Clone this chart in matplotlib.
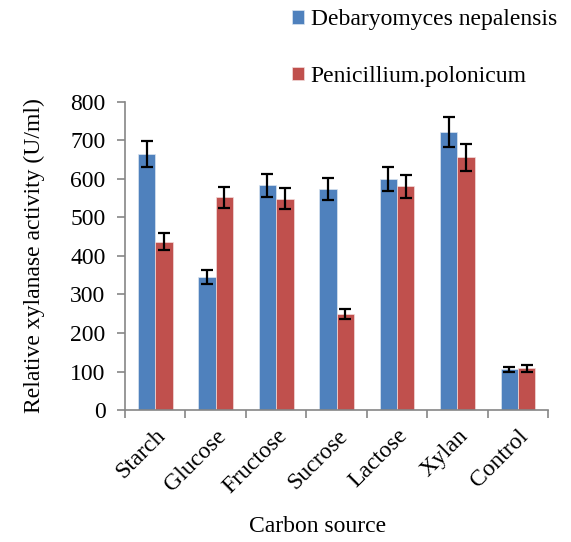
import matplotlib.pyplot as plt
import numpy as np

plt.rcParams['font.family'] = ['Liberation Serif', 'DejaVu Serif']

categories = ["Starch", "Glucose", "Fructose", "Sucrose", "Lactose", "Xylan", "Control"]
debaryomyces = [665, 345, 584, 573, 600, 722, 106]
debaryomyces_err = [33, 18, 30, 29, 32, 38, 6]
penicillium = [437, 552, 549, 250, 581, 656, 108]
penicillium_err = [22, 28, 27, 13, 30, 35, 8]

blue = "#4f81bd"
red = "#c0504d"
grey = "#868686"

fig = plt.figure(figsize=(5.71, 5.42), dpi=100)
ax = fig.add_axes([0.219, 0.2435, 0.741, 0.5685])

x = np.arange(len(categories))
w = 0.287
ekw = dict(ecolor="black", elinewidth=1.6, capsize=4.5, capthick=1.6)
b1 = ax.bar(x - w / 2, debaryomyces, w, color=blue, edgecolor="#dbe5f1", linewidth=0.5,
            yerr=debaryomyces_err, error_kw=ekw)
b2 = ax.bar(x + w / 2, penicillium, w, color=red, edgecolor="#f2dcdb", linewidth=0.5,
            yerr=penicillium_err, error_kw=ekw)

ax.set_xlim(-0.5, len(categories) - 0.5)
ax.set_ylim(0, 800)
ax.set_yticks(range(0, 801, 100))
ax.set_xticks(x)
ax.set_xticklabels(categories, rotation=45, ha="right", rotation_mode="anchor", fontsize=17)
ax.tick_params(axis="x", length=0, pad=11)
ax.set_xticks(np.arange(-0.5, len(categories), 1), minor=True)
ax.tick_params(axis="x", which="minor", length=6, color=grey, width=1.2)
ax.tick_params(axis="y", labelsize=17, length=6, color=grey, width=1.2, pad=8)

for s in ["top", "right"]:
    ax.spines[s].set_visible(False)
for s in ["left", "bottom"]:
    ax.spines[s].set_color(grey)
    ax.spines[s].set_linewidth(1.2)

ax.set_ylabel("Relative xylanase activity (U/ml)", fontsize=17, labelpad=18)
ax.set_xlabel("Carbon source", fontsize=17, labelpad=13, x=0.456)

fig.legend([b1, b2], ["Debaryomyces nepalensis", "Penicillium.polonicum"],
           loc="upper left", bbox_to_anchor=(0.474, 1.022), frameon=False, fontsize=17,
           handlelength=0.5, handleheight=0.5, handletextpad=0.3, labelspacing=1.5)

fig.savefig("out.png", dpi=100)
